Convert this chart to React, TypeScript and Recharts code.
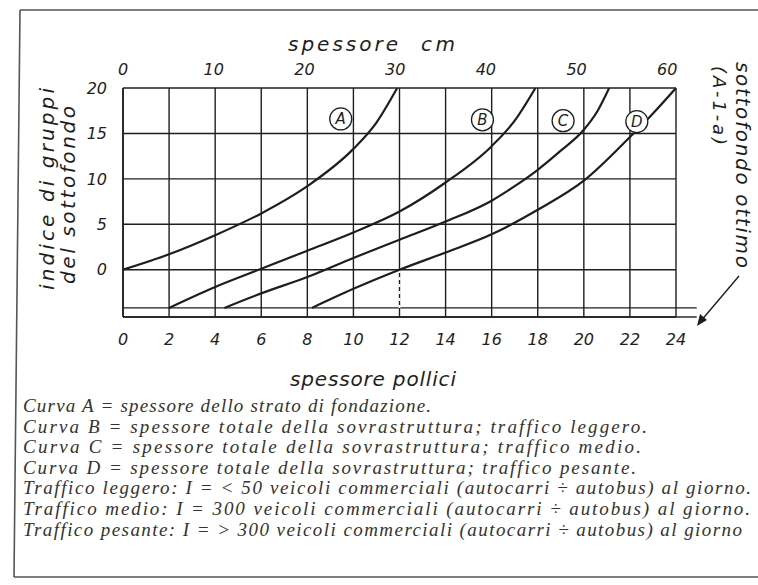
import React from "react";
import {
  LineChart,
  Line,
  XAxis,
  YAxis,
  CartesianGrid,
  ReferenceLine,
  ReferenceDot,
} from "recharts";

// spessore in pollici (asse inferiore) e in cm (asse superiore)
const INCH_TICKS = [0, 2, 4, 6, 8, 10, 12, 14, 16, 18, 20, 22, 24];
const CM_TICKS = [0, 10, 20, 30, 40, 50, 60];
const INDEX_TICKS = [0, 5, 10, 15, 20];

const SOTTOFONDO_OTTIMO = -4.2;
const FONDO = -5.2;

// curve: x = pollici, y = indice di gruppo
const CURVA_A = [
  { x: 0, y: 0 },
  { x: 2, y: 1.7 },
  { x: 4, y: 3.8 },
  { x: 6, y: 6.2 },
  { x: 8, y: 9.2 },
  { x: 10, y: 13.3 },
  { x: 11, y: 16.2 },
  { x: 11.9, y: 20 },
];
const CURVA_B = [
  { x: 2, y: -4.2 },
  { x: 4, y: -1.9 },
  { x: 6, y: 0.1 },
  { x: 8, y: 2.1 },
  { x: 10, y: 4.1 },
  { x: 12, y: 6.4 },
  { x: 14, y: 9.6 },
  { x: 16, y: 13.6 },
  { x: 17, y: 16.4 },
  { x: 17.9, y: 20 },
];
const CURVA_C = [
  { x: 4.4, y: -4.2 },
  { x: 6, y: -2.6 },
  { x: 8, y: -0.8 },
  { x: 10, y: 1.3 },
  { x: 12, y: 3.3 },
  { x: 14, y: 5.3 },
  { x: 16, y: 7.6 },
  { x: 17, y: 9.2 },
  { x: 18, y: 11.0 },
  { x: 19, y: 13.1 },
  { x: 20, y: 15.4 },
  { x: 20.6, y: 17.5 },
  { x: 21.1, y: 20 },
];
const CURVA_D = [
  { x: 8.2, y: -4.2 },
  { x: 10, y: -2.1 },
  { x: 12, y: 0 },
  { x: 14, y: 1.9 },
  { x: 16, y: 3.9 },
  { x: 18, y: 6.6 },
  { x: 20, y: 9.8 },
  { x: 22, y: 14.6 },
  { x: 23, y: 17.2 },
  { x: 24, y: 20 },
];

const ETICHETTE = [
  { id: "A", x: 9.45, y: 16.6 },
  { id: "B", x: 15.6, y: 16.5 },
  { id: "C", x: 19.1, y: 16.4 },
  { id: "D", x: 22.3, y: 16.3 },
];

const NOTE = [
  { testo: "Curva A = spessore dello strato di fondazione.", w: 408 },
  { testo: "Curva B = spessore totale della sovrastruttura; traffico leggero.", w: 624 },
  { testo: "Curva C = spessore totale della sovrastruttura; traffico medio.", w: 618 },
  { testo: "Curva D = spessore totale della sovrastruttura; traffico pesante.", w: 613 },
  { testo: "Traffico leggero:  I = < 50 veicoli commerciali (autocarri ÷ autobus) al giorno.", w: 728 },
  { testo: "Traffico medio:  I = 300 veicoli commerciali (autocarri ÷ autobus) al giorno.", w: 727 },
  { testo: "Traffico pesante: I = > 300 veicoli commerciali (autocarri ÷ autobus) al giorno", w: 719 },
];

const INK = "#1e1e1e";
const SANS = "'DejaVu Sans', sans-serif";
const tickStyle = { fontSize: 16, fontStyle: "italic", fill: INK, fontFamily: SANS };

export default function App() {
  return (
    <div style={{ position: "absolute", left: 0, top: 0, width: 758, height: 585, background: "#fff" }}>
      <LineChart
        width={758}
        height={585}
        margin={{ top: 58, left: 83, right: 82, bottom: 238 }}
      >
        <CartesianGrid stroke={INK} strokeWidth={1.4} />
        <XAxis
          type="number"
          dataKey="x"
          domain={[0, 24]}
          ticks={INCH_TICKS}
          height={30}
          tickSize={0}
          tickMargin={17}
          tick={tickStyle}
          axisLine={{ stroke: INK, strokeWidth: 1.6 }}
          allowDataOverflow
        />
        <XAxis
          xAxisId="cm"
          orientation="top"
          type="number"
          dataKey="x"
          domain={[0, 24 * 2.54]}
          ticks={CM_TICKS}
          height={30}
          tickSize={0}
          tickMargin={13}
          tick={tickStyle}
          axisLine={false}
          allowDataOverflow
        />
        <YAxis
          type="number"
          domain={[FONDO, 20]}
          ticks={INDEX_TICKS}
          width={40}
          tickSize={0}
          tickMargin={16}
          tick={tickStyle}
          axisLine={{ stroke: INK, strokeWidth: 1.6 }}
          allowDataOverflow
        />
        <ReferenceLine
          segment={[
            { x: 0, y: SOTTOFONDO_OTTIMO },
            { x: 24.9, y: SOTTOFONDO_OTTIMO },
          ]}
          stroke={INK}
          strokeWidth={1.4}
          ifOverflow="visible"
        />
        <ReferenceLine
          segment={[
            { x: 24, y: FONDO },
            { x: 24.9, y: FONDO },
          ]}
          stroke={INK}
          strokeWidth={1.4}
          ifOverflow="visible"
        />
        <ReferenceLine
          segment={[
            { x: 12, y: SOTTOFONDO_OTTIMO },
            { x: 12, y: 0 },
          ]}
          stroke="#fff"
          strokeWidth={2}
          strokeDasharray="3 4"
        />
        {/* serie invisibile solo per agganciare l'asse in cm */}
        <Line
          xAxisId="cm"
          data={CM_TICKS.map((c) => ({ x: c, y: 0 }))}
          dataKey="y"
          stroke="none"
          dot={false}
          activeDot={false}
          legendType="none"
          isAnimationActive={false}
        />
        {[CURVA_A, CURVA_B, CURVA_C, CURVA_D].map((curva, i) => (
          <Line
            key={i}
            data={curva}
            dataKey="y"
            type="monotone"
            stroke={INK}
            strokeWidth={2.2}
            dot={false}
            isAnimationActive={false}
          />
        ))}
        {ETICHETTE.map((e) => (
          <ReferenceDot
            key={e.id}
            x={e.x}
            y={e.y}
            r={11}
            fill="#fff"
            stroke={INK}
            strokeWidth={1.3}
            label={{
              value: e.id,
              position: "center",
              fontSize: 15,
              fontStyle: "italic",
              fontFamily: SANS,
              fill: INK,
            }}
          />
        ))}
      </LineChart>

      <svg
        width={758}
        height={585}
        style={{ position: "absolute", left: 0, top: 0, pointerEvents: "none" }}
      >
        <path d="M20 10 L758 10 M20 10 L14 577 M14 577 L758 577" stroke="#555" strokeWidth={1.6} fill="none" />
        <g fontFamily={SANS} fontStyle="italic" fill={INK} fontSize={20}>
          <text x={288} y={51} textLength={110} lengthAdjust="spacing">spessore</text>
          <text x={421} y={51} textLength={34} lengthAdjust="spacing">cm</text>
          <text x={290} y={386} textLength={166} lengthAdjust="spacing">spessore pollici</text>
          <text transform="translate(54,290) rotate(-90)" textLength={202} lengthAdjust="spacing">
            indice di gruppi
          </text>
          <text transform="translate(75,284) rotate(-90)" textLength={178} lengthAdjust="spacing">
            del sottofondo
          </text>
          <text transform="translate(736,62) rotate(90)" textLength={206} lengthAdjust="spacing">
            sottofondo ottimo
          </text>
          <text transform="translate(713,66) rotate(90)" fontSize={18} textLength={79} lengthAdjust="spacing">
            (A-1-a)
          </text>
        </g>
        <line x1={739} y1={276} x2={700} y2={322} stroke={INK} strokeWidth={1.4} />
        <polygon points="697,326 700,314 707,320" fill={INK} />
        <g fontFamily="'Liberation Serif', serif" fontStyle="italic" fill="#333" fontSize={19}>
          {NOTE.map((n, i) => (
            <text
              key={i}
              x={23}
              y={412 + i * 20.6}
              textLength={n.w}
              lengthAdjust="spacing"
            >
              {n.testo}
            </text>
          ))}
        </g>
      </svg>
    </div>
  );
}
